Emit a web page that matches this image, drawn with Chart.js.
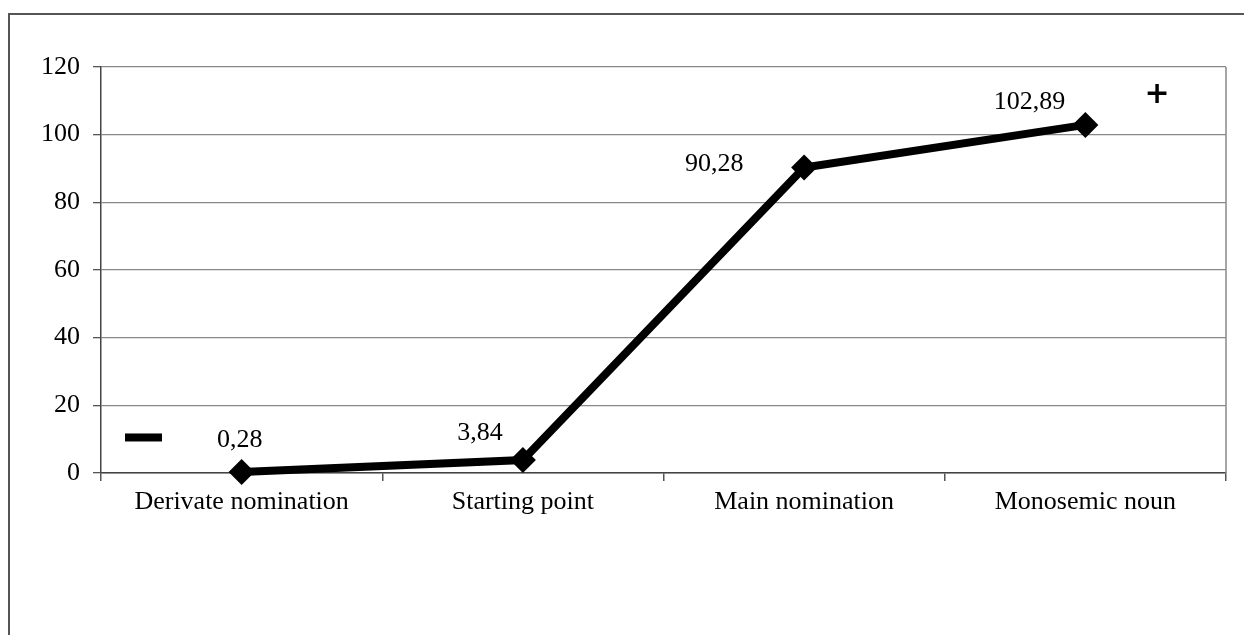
<!DOCTYPE html>
<html>
<head>
<meta charset="utf-8">
<script src="https://cdn.jsdelivr.net/npm/chart.js@4.4.0/dist/chart.umd.min.js"></script>
<style>
html, body { margin: 0; padding: 0; background: #fff; overflow: hidden; }
#frame { position: absolute; left: 8px; top: 13px; width: 1300px; height: 700px; border-left: 2px solid #555; border-top: 2px solid #555; }
#myChart { position: absolute; left: 0; top: 0; }
</style>
</head>
<body>
<div id="frame"></div>
<canvas id="myChart" width="1244" height="635"></canvas>
<script>
const categories = ['Derivate nomination', 'Starting point', 'Main nomination', 'Monosemic noun']
const values = [0.28, 3.84, 90.28, 102.89]
const valueLabels = ['0,28', '3,84', '90,28', '102,89']
const yTicks = [0, 20, 40, 60, 80, 100, 120]

// where each value label sits, relative to its point (px)
const labelShift = [[-2, -32], [-43, -27], [-90, -3], [-56, -23]]

const extras = {
    id: 'extras',
    beforeDatasetsDraw(chart) {
        const { ctx, chartArea } = chart
        ctx.save()
        ctx.strokeStyle = '#888'
        ctx.lineWidth = 1.5
        ctx.beginPath()
        ctx.moveTo(chartArea.right, chartArea.top)
        ctx.lineTo(chartArea.right, chartArea.bottom)
        ctx.stroke()
        ctx.restore()
    },
    afterDatasetsDraw(chart) {
        const { ctx, chartArea, scales } = chart
        const pts = chart.getDatasetMeta(0).data
        ctx.save()
        ctx.fillStyle = '#000'
        ctx.font = '26px "Liberation Serif"'
        ctx.textAlign = 'center'
        ctx.textBaseline = 'middle'
        pts.forEach((p, i) => {
            ctx.fillText(valueLabels[i], p.x + labelShift[i][0], p.y + labelShift[i][1])
        })
        // the minus / plus signs
        ctx.fillRect(chartArea.left + 24, scales.y.getPixelForValue(10.5) - 4, 37, 8)
        ctx.font = 'bold 30px "DejaVu Sans"'
        ctx.fillText('+', chartArea.right - 69, scales.y.getPixelForValue(111.7))
        ctx.restore()
    }
}

Chart.defaults.font.family = '"Liberation Serif", "Times New Roman", serif'
Chart.defaults.font.size = 26
Chart.defaults.color = '#000'

const line = {
    type: 'line',
    data: {
        labels: categories,
        datasets: [
            {
                data: values,
                borderColor: '#000',
                borderWidth: 8,
                tension: 0,
                pointStyle: 'rectRot',
                pointRadius: 13,
                pointHoverRadius: 13,
                pointBackgroundColor: '#000',
                pointBorderWidth: 0,
                clip: false
            }
        ]
    },
    options: {
        responsive: false,
        animation: false,
        layout: { padding: { left: 0, right: 18, top: 67, bottom: 0 } },
        plugins: { legend: { display: false }, tooltip: { enabled: false } },
        scales: {
            x: {
                offset: true,
                grid: { offset: true, drawOnChartArea: false, tickLength: 8, color: '#555', lineWidth: 1.5 },
                border: { color: '#444', width: 1.5 },
                ticks: { padding: 6, maxRotation: 0 },
                afterFit: s => { s.height = 162 }
            },
            y: {
                min: 0,
                max: 120,
                afterBuildTicks: s => { s.ticks = yTicks.map(v => ({ value: v })) },
                grid: { color: '#888', lineWidth: 1.3, tickLength: 8, tickColor: '#555' },
                border: { color: '#444', width: 1.5 },
                ticks: { padding: 13 },
                afterFit: s => { s.width = 101 }
            }
        }
    },
    plugins: [extras]
}

new Chart(document.getElementById('myChart'), line)
</script>
</body>
</html>
